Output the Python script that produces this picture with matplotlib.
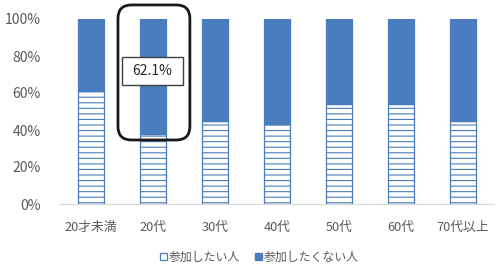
import numpy as np
import matplotlib
matplotlib.use("Agg")
import matplotlib.pyplot as plt
from matplotlib.patches import Patch, FancyBboxPatch, Rectangle

plt.rcParams['font.family'] = ['Noto Sans CJK JP', 'DejaVu Sans']
plt.rcParams['hatch.linewidth'] = 0.8

# data (percent)
categories = ['20才未満', '20代', '30代', '40代', '50代', '60代', '70代以上']
want = [61.0, 37.9, 45.0, 43.0, 54.0, 54.0, 44.7]
not_want = [100 - v for v in want]
series_names = ['参加したい人', '参加したくない人']

blue = '#4a7dbd'
gray = '#595959'

fig = plt.figure(figsize=(4.97, 2.65), dpi=100)
ax = fig.add_axes([60 / 497, 61 / 265, 434 / 497, 185 / 265])

x = np.arange(len(categories))
ax.bar(x, want, width=0.41, color='white', edgecolor=blue, hatch='---', linewidth=0.9)
ax.bar(x, not_want, width=0.41, bottom=want, color=blue, edgecolor=blue, linewidth=0.9)

ax.set_xlim(-0.5, len(categories) - 0.5)
ax.set_ylim(0, 100)
ax.set_yticks(np.arange(0, 101, 20))
ax.set_yticklabels([f'{v}%' for v in range(0, 101, 20)])
ax.set_xticks(x)
ax.set_xticklabels(categories)
ax.tick_params(axis='both', length=0, colors=gray, labelsize=10)
ax.tick_params(axis='x', pad=12, labelsize=9.2)
ax.tick_params(axis='y', pad=14)
for s in ['left', 'right', 'top']:
    ax.spines[s].set_visible(False)
ax.spines['bottom'].set_color('#d9d9d9')

# highlight box around 20代 (rounded corners kept round with mutation_aspect)
hl = 1
px_x, px_y = 62.0, 1.85  # pixels per data unit
box = FancyBboxPatch((hl - 0.565, 34.6), 1.16, 73.0,
                     boxstyle='round,pad=0,rounding_size=0.22',
                     mutation_aspect=px_x / px_y,
                     fill=False, edgecolor='#1a1a1a', linewidth=2.0,
                     clip_on=False, zorder=5)
ax.add_patch(box)
ax.add_patch(Rectangle((hl - 0.5, 64.3), 0.985, 15.2, facecolor='white',
                       edgecolor='#404040', linewidth=1, zorder=6, clip_on=False))
ax.text(hl - 0.01, 71.9, f'{not_want[hl]:.1f}%', ha='center', va='center', fontsize=10,
        color='#262626', zorder=7)

handles = [Patch(facecolor='white', edgecolor=blue, linewidth=0.9),
           Patch(facecolor=blue, edgecolor=blue)]
fig.legend(handles, series_names, loc='center', bbox_to_anchor=(0.522, 0.03),
           ncol=2, frameon=False, fontsize=8.6, labelcolor=gray,
           handlelength=0.6, handleheight=0.6, handletextpad=0.2, columnspacing=1.2,
           borderpad=0)

fig.savefig('out.png', dpi=100)
